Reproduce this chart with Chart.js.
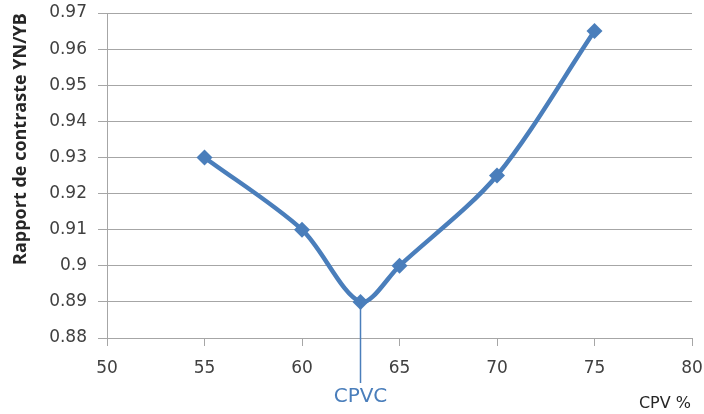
<!DOCTYPE html>
<html>
<head>
<meta charset="utf-8">
<script src="https://cdn.jsdelivr.net/npm/chart.js@4.4.1/dist/chart.umd.min.js"></script>
<style>
  html, body { margin: 0; padding: 0; background: #fff; }
  #wrap { width: 704px; height: 414px; }
</style>
</head>
<body>
<div id="wrap"><canvas id="myChart"></canvas></div>
<script>
// CPV values (x) and contrast ratio YN/YB (y)
const cpv = [55, 60, 63, 65, 70, 75]
const ratio = [0.93, 0.91, 0.89, 0.9, 0.925, 0.965]

// axis ticks
const xTicks = [50, 55, 60, 65, 70, 75, 80]
const yTicks = [0.88, 0.89, 0.9, 0.91, 0.92, 0.93, 0.94, 0.95, 0.96, 0.97]

// critical point (CPVC)
const cpvcX = 63
const cpvcY = 0.89

const lineBlue = '#4a7ebb'
const gridGray = '#a6a6a6'
const textGray = '#404040'

const points = cpv.map((x, i) => ({ x: x, y: ratio[i] }))

// Draw the CPVC marker line + label and the axis titles
const annotations = {
  id: 'annotations',
  afterDatasetsDraw(chart) {
    const ctx = chart.ctx
    const xs = chart.scales.x
    const ys = chart.scales.y
    const px = xs.getPixelForValue(cpvcX)
    const py = ys.getPixelForValue(cpvcY)

    ctx.save()
    ctx.strokeStyle = lineBlue
    ctx.lineWidth = 1.5
    ctx.beginPath()
    ctx.moveTo(px, py)
    ctx.lineTo(px, 383)
    ctx.stroke()

    ctx.fillStyle = lineBlue
    ctx.font = '20px "DejaVu Sans"'
    ctx.textAlign = 'center'
    ctx.textBaseline = 'middle'
    ctx.fillText('CPVC', px, 397)

    // x title
    ctx.fillStyle = '#262626'
    ctx.font = '16px "DejaVu Sans"'
    ctx.textAlign = 'right'
    ctx.fillText('CPV %', 691, 404)

    // y title (rotated)
    ctx.translate(21, 139)
    ctx.rotate(-Math.PI / 2)
    ctx.font = 'bold 18px "Open Sans"'
    ctx.textAlign = 'center'
    ctx.fillText('Rapport de contraste YN/YB', 0, 0)
    ctx.restore()
  },
}

const ctx = document.getElementById('myChart').getContext('2d')

new Chart(ctx, {
  type: 'scatter',
  data: {
    datasets: [
      {
        label: 'YN/YB',
        data: points,
        showLine: true,
        borderColor: lineBlue,
        backgroundColor: lineBlue,
        borderWidth: 4.5,
        tension: 0.3,
        pointStyle: 'rectRot',
        pointRadius: 8,
        pointBorderWidth: 0,
      },
    ],
  },
  options: {
    responsive: true,
    maintainAspectRatio: false,
    animation: false,
    layout: {
      padding: { left: 0, top: 13, right: 12, bottom: 0 },
    },
    plugins: {
      legend: { display: false },
      tooltip: { enabled: false },
    },
    scales: {
      x: {
        type: 'linear',
        min: 50,
        max: 80,
        afterBuildTicks: (scale) => {
          scale.ticks = xTicks.map((v) => ({ value: v }))
        },
        afterFit: (scale) => {
          scale.height = 76
          // let the chart area reach the padding, labels may overflow
          scale.paddingLeft = 0
          scale.paddingRight = 0
        },
        grid: {
          drawOnChartArea: false,
          color: gridGray,
          tickLength: 8,
        },
        border: { color: gridGray, width: 1 },
        ticks: {
          color: textGray,
          font: { family: 'DejaVu Sans', size: 17 },
          padding: 12,
          maxRotation: 0,
        },
      },
      y: {
        min: 0.88,
        max: 0.97,
        afterBuildTicks: (scale) => {
          scale.ticks = yTicks.map((v) => ({ value: v }))
        },
        afterFit: (scale) => {
          scale.width = 107
          scale.paddingTop = 0
          scale.paddingBottom = 0
        },
        grid: {
          color: gridGray,
          tickLength: 9,
        },
        border: { color: gridGray, width: 1 },
        ticks: {
          color: textGray,
          font: { family: 'DejaVu Sans', size: 17 },
          padding: 11,
          callback: (v) => String(parseFloat(v.toFixed(2))),
        },
      },
    },
  },
  plugins: [annotations],
})
</script>
</body>
</html>
